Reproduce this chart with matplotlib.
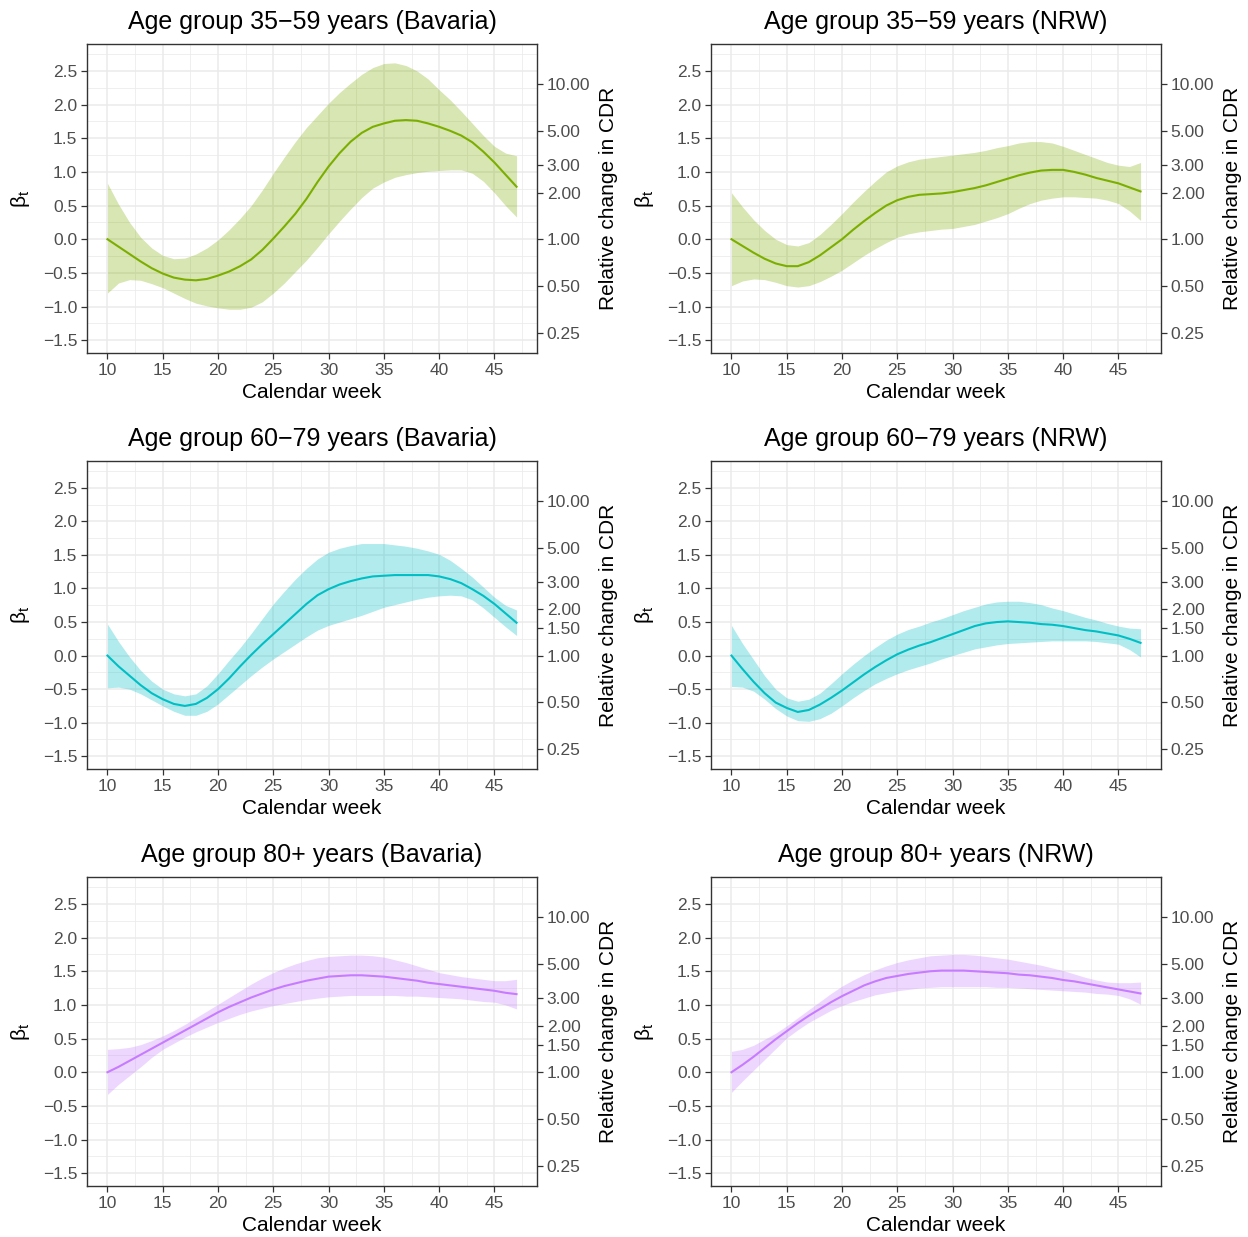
import numpy as np
import matplotlib
matplotlib.use("Agg")
import matplotlib.pyplot as plt

plt.rcParams['font.family'] = ['Liberation Sans', 'DejaVu Sans']
plt.rcParams['mathtext.fontset'] = 'custom'
plt.rcParams['mathtext.rm'] = 'Liberation Sans'
plt.rcParams['mathtext.it'] = 'Liberation Sans'

weeks = list(range(10, 48))

# Bavaria 35-59
bav1_fit = [0.00, -0.11, -0.22, -0.33, -0.43, -0.51, -0.57, -0.60, -0.61, -0.59,
            -0.54, -0.48, -0.40, -0.30, -0.16, 0.01, 0.19, 0.38, 0.60, 0.85,
            1.08, 1.28, 1.45, 1.58, 1.67, 1.72, 1.76, 1.77, 1.76, 1.72,
            1.67, 1.61, 1.54, 1.44, 1.30, 1.14, 0.96, 0.78]
bav1_hi = [0.83, 0.52, 0.25, 0.03, -0.13, -0.24, -0.29, -0.28, -0.22, -0.13,
           -0.01, 0.14, 0.31, 0.50, 0.73, 0.98, 1.22, 1.45, 1.66, 1.84,
           2.02, 2.18, 2.32, 2.45, 2.55, 2.61, 2.62, 2.58, 2.50, 2.38,
           2.22, 2.07, 1.90, 1.72, 1.54, 1.38, 1.28, 1.24]
bav1_lo = [-0.80, -0.65, -0.60, -0.61, -0.66, -0.72, -0.80, -0.88, -0.95, -0.99,
           -1.02, -1.04, -1.04, -1.01, -0.93, -0.80, -0.65, -0.48, -0.31, -0.12,
           0.08, 0.27, 0.45, 0.62, 0.76, 0.85, 0.92, 0.96, 0.99, 1.01,
           1.02, 1.03, 1.03, 0.98, 0.86, 0.69, 0.50, 0.33]

# NRW 35-59
nrw1_fit = [0.00, -0.10, -0.20, -0.29, -0.36, -0.40, -0.40, -0.34, -0.24, -0.12,
            0.00, 0.14, 0.27, 0.39, 0.50, 0.58, 0.63, 0.66, 0.67, 0.68,
            0.70, 0.73, 0.76, 0.80, 0.85, 0.90, 0.95, 0.99, 1.02, 1.03,
            1.03, 1.00, 0.96, 0.91, 0.87, 0.83, 0.77, 0.71]
nrw1_hi = [0.69, 0.48, 0.29, 0.13, 0.00, -0.08, -0.10, -0.05, 0.07, 0.22,
           0.38, 0.55, 0.71, 0.86, 1.00, 1.09, 1.15, 1.19, 1.21, 1.23,
           1.25, 1.27, 1.29, 1.32, 1.36, 1.39, 1.43, 1.45, 1.45, 1.43,
           1.38, 1.32, 1.26, 1.20, 1.14, 1.10, 1.08, 1.14]
nrw1_lo = [-0.69, -0.62, -0.59, -0.60, -0.64, -0.69, -0.71, -0.69, -0.63, -0.55,
           -0.46, -0.35, -0.24, -0.14, -0.05, 0.03, 0.08, 0.11, 0.13, 0.15,
           0.16, 0.19, 0.22, 0.27, 0.32, 0.38, 0.46, 0.53, 0.58, 0.61,
           0.63, 0.63, 0.62, 0.61, 0.58, 0.53, 0.42, 0.28]

# Bavaria 60-79
bav2_fit = [0.00, -0.16, -0.30, -0.44, -0.56, -0.65, -0.72, -0.75, -0.72, -0.63,
            -0.50, -0.34, -0.16, 0.01, 0.17, 0.32, 0.47, 0.62, 0.77, 0.90,
            0.99, 1.06, 1.11, 1.15, 1.18, 1.19, 1.20, 1.20, 1.20, 1.20,
            1.18, 1.14, 1.08, 0.99, 0.89, 0.77, 0.63, 0.49]
bav2_hi = [0.47, 0.21, -0.02, -0.22, -0.38, -0.50, -0.57, -0.60, -0.57, -0.45,
           -0.27, -0.07, 0.12, 0.33, 0.55, 0.77, 0.96, 1.14, 1.30, 1.44,
           1.54, 1.60, 1.64, 1.67, 1.67, 1.67, 1.65, 1.63, 1.60, 1.56,
           1.51, 1.42, 1.30, 1.17, 1.02, 0.87, 0.75, 0.68]
bav2_lo = [-0.48, -0.47, -0.50, -0.57, -0.66, -0.75, -0.83, -0.89, -0.89, -0.83,
           -0.72, -0.58, -0.44, -0.30, -0.17, -0.05, 0.06, 0.17, 0.28, 0.38,
           0.45, 0.50, 0.55, 0.60, 0.66, 0.72, 0.76, 0.80, 0.84, 0.87,
           0.89, 0.90, 0.89, 0.83, 0.71, 0.57, 0.43, 0.30]

# NRW 60-79
nrw2_fit = [0.00, -0.20, -0.39, -0.56, -0.70, -0.78, -0.84, -0.81, -0.73, -0.63,
            -0.52, -0.40, -0.28, -0.17, -0.07, 0.02, 0.09, 0.15, 0.20, 0.26,
            0.32, 0.38, 0.44, 0.48, 0.50, 0.51, 0.50, 0.49, 0.47, 0.46,
            0.44, 0.41, 0.38, 0.36, 0.33, 0.30, 0.25, 0.19]
nrw2_hi = [0.45, 0.18, -0.06, -0.30, -0.50, -0.63, -0.68, -0.65, -0.56, -0.42,
           -0.27, -0.13, 0.00, 0.12, 0.23, 0.32, 0.39, 0.44, 0.50, 0.55,
           0.61, 0.67, 0.72, 0.77, 0.80, 0.81, 0.81, 0.79, 0.76, 0.71,
           0.67, 0.62, 0.57, 0.53, 0.48, 0.44, 0.41, 0.40]
nrw2_lo = [-0.46, -0.47, -0.53, -0.65, -0.79, -0.90, -0.97, -0.98, -0.94, -0.86,
           -0.75, -0.63, -0.52, -0.42, -0.34, -0.27, -0.21, -0.16, -0.11, -0.05,
           0.00, 0.05, 0.10, 0.13, 0.16, 0.18, 0.19, 0.20, 0.21, 0.22,
           0.22, 0.22, 0.22, 0.21, 0.19, 0.17, 0.09, -0.02]

# Bavaria 80+
bav3_fit = [0.00, 0.08, 0.17, 0.26, 0.35, 0.44, 0.53, 0.62, 0.71, 0.80,
            0.89, 0.97, 1.04, 1.11, 1.17, 1.23, 1.28, 1.32, 1.36, 1.39,
            1.42, 1.43, 1.44, 1.44, 1.43, 1.42, 1.40, 1.38, 1.36, 1.33,
            1.31, 1.29, 1.27, 1.25, 1.23, 1.21, 1.18, 1.16]
bav3_hi = [0.34, 0.35, 0.37, 0.41, 0.47, 0.54, 0.62, 0.71, 0.81, 0.91,
           1.01, 1.11, 1.21, 1.31, 1.40, 1.48, 1.55, 1.61, 1.66, 1.70,
           1.72, 1.73, 1.74, 1.74, 1.73, 1.71, 1.67, 1.63, 1.58, 1.53,
           1.48, 1.45, 1.42, 1.40, 1.38, 1.36, 1.36, 1.38]
bav3_lo = [-0.33, -0.18, -0.05, 0.08, 0.22, 0.34, 0.43, 0.52, 0.60, 0.67,
           0.74, 0.80, 0.86, 0.91, 0.95, 0.99, 1.02, 1.05, 1.08, 1.10,
           1.12, 1.13, 1.14, 1.14, 1.14, 1.14, 1.14, 1.13, 1.13, 1.12,
           1.11, 1.10, 1.09, 1.07, 1.05, 1.04, 1.00, 0.94]

# NRW 80+
nrw3_fit = [0.00, 0.11, 0.23, 0.36, 0.49, 0.61, 0.73, 0.84, 0.94, 1.04,
            1.13, 1.21, 1.29, 1.35, 1.40, 1.43, 1.46, 1.48, 1.50, 1.51,
            1.51, 1.51, 1.50, 1.49, 1.48, 1.47, 1.45, 1.44, 1.42, 1.40,
            1.37, 1.35, 1.32, 1.29, 1.26, 1.23, 1.20, 1.17]
nrw3_hi = [0.31, 0.34, 0.40, 0.49, 0.58, 0.69, 0.81, 0.93, 1.05, 1.17,
           1.28, 1.37, 1.45, 1.52, 1.58, 1.63, 1.67, 1.70, 1.73, 1.74,
           1.75, 1.75, 1.74, 1.72, 1.70, 1.68, 1.65, 1.62, 1.59, 1.55,
           1.51, 1.46, 1.41, 1.37, 1.34, 1.33, 1.33, 1.34]
nrw3_lo = [-0.30, -0.13, 0.03, 0.19, 0.35, 0.51, 0.63, 0.74, 0.83, 0.92,
           0.99, 1.05, 1.10, 1.15, 1.18, 1.21, 1.23, 1.25, 1.26, 1.27,
           1.27, 1.27, 1.27, 1.27, 1.26, 1.26, 1.25, 1.24, 1.23, 1.22,
           1.21, 1.20, 1.19, 1.17, 1.16, 1.14, 1.09, 1.01]

titles = ["Age group 35\u221259 years (Bavaria)", "Age group 35\u221259 years (NRW)",
          "Age group 60\u221279 years (Bavaria)", "Age group 60\u221279 years (NRW)",
          "Age group 80+ years (Bavaria)", "Age group 80+ years (NRW)"]
colors = ["#7CAE00", "#7CAE00", "#00BFC4", "#00BFC4", "#C77CFF", "#C77CFF"]
fits = [bav1_fit, nrw1_fit, bav2_fit, nrw2_fit, bav3_fit, nrw3_fit]
his = [bav1_hi, nrw1_hi, bav2_hi, nrw2_hi, bav3_hi, nrw3_hi]
los = [bav1_lo, nrw1_lo, bav2_lo, nrw2_lo, bav3_lo, nrw3_lo]

rel_ticks_top = [10, 5, 3, 2, 1, 0.5, 0.25]
rel_ticks_rest = [10, 5, 3, 2, 1.5, 1, 0.5, 0.25]
beta_ticks = [-1.5, -1.0, -0.5, 0.0, 0.5, 1.0, 1.5, 2.0, 2.5]
week_ticks = [10, 15, 20, 25, 30, 35, 40, 45]

W, H = 1248, 1237
fig = plt.figure(figsize=(W / 100, H / 100), dpi=100)

col_x = [87, 711]
row_y = [(44, 353), (461, 769), (877, 1186)]
pw = 450

for i in range(6):
    r, c = divmod(i, 2)
    top, bot = row_y[r]
    ax = fig.add_axes([col_x[c] / W, 1 - bot / H, pw / W, (bot - top) / H])
    ax.set_xlim(8.15, 48.85)
    ax.set_ylim(-1.69, 2.90)
    ax.set_xticks(week_ticks)
    ax.set_xticks(np.arange(12.5, 48, 5), minor=True)
    ax.set_yticks(beta_ticks)
    ax.set_yticks(np.arange(-1.25, 2.9, 0.5), minor=True)
    ax.grid(which='major', color='#EBEBEB', linewidth=1.1)
    ax.grid(which='minor', color='#EBEBEB', linewidth=0.55)
    ax.set_axisbelow(True)
    ax.fill_between(weeks, los[i], his[i], color=colors[i], alpha=0.3, linewidth=0)
    ax.plot(weeks, fits[i], color=colors[i], linewidth=1.5)
    ax.set_yticklabels(["\u22121.5", "\u22121.0", "\u22120.5", "0.0", "0.5", "1.0", "1.5", "2.0", "2.5"])
    ax.tick_params(which='major', length=4, width=0.9, color='#333333',
                   labelsize=12.5, labelcolor='#4D4D4D', pad=3)
    ax.tick_params(which='minor', length=0)
    for s in ax.spines.values():
        s.set_color('#333333')
        s.set_linewidth(1.0)
    ax.set_xlabel("Calendar week", fontsize=15, labelpad=4)
    ax.set_ylabel(r"$\beta_t$", fontsize=15, labelpad=8)
    ax.set_title(titles[i], fontsize=18, pad=11)

    rel = rel_ticks_top if r == 0 else rel_ticks_rest
    ax2 = ax.twinx()
    ax2.set_ylim(ax.get_ylim())
    ax2.set_yticks(np.log(rel))
    ax2.set_yticklabels(["%.2f" % v for v in rel])
    ax2.tick_params(length=4, width=0.9, color='#333333',
                    labelsize=12.5, labelcolor='#4D4D4D', pad=3)
    for s in ax2.spines.values():
        s.set_visible(False)
    ax2.set_ylabel("Relative change in CDR", fontsize=15, labelpad=6)

fig.savefig("out.png", dpi=100)
